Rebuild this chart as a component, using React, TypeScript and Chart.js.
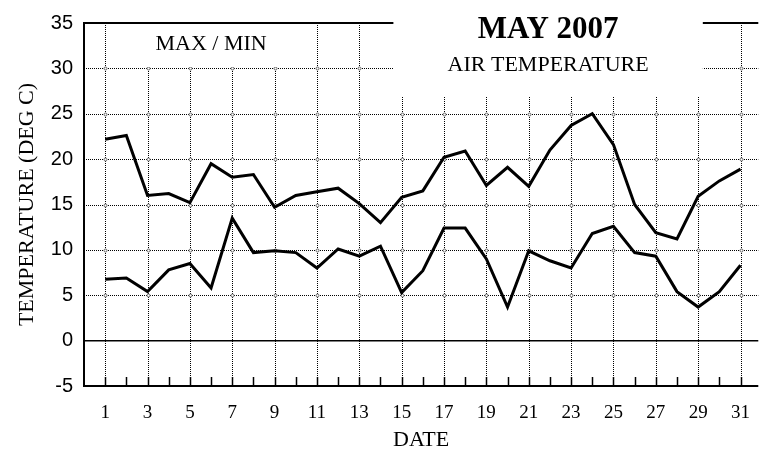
import React, { useEffect, useRef } from 'react';
import { Chart, registerables } from 'chart.js';

Chart.register(...registerables);

// ---- data ----
const days = [1, 2, 3, 4, 5, 6, 7, 8, 9, 10, 11, 12, 13, 14, 15, 16, 17, 18, 19, 20, 21, 22, 23, 24, 25, 26, 27, 28, 29, 30, 31];
const maxTemp = [22.2, 22.6, 16.0, 16.2, 15.2, 19.5, 18.0, 18.3, 14.7, 16.0, 16.4, 16.8, 15.1, 13.0, 15.8, 16.5, 20.2, 20.9, 17.1, 19.1, 17.0, 21.0, 23.7, 25.0, 21.6, 15.0, 11.9, 11.2, 15.9, 17.6, 18.9];
const minTemp = [6.75, 6.9, 5.4, 7.8, 8.5, 5.8, 13.5, 9.7, 9.9, 9.7, 8.0, 10.1, 9.3, 10.4, 5.3, 7.7, 12.4, 12.4, 9.0, 3.7, 9.9, 8.8, 8.0, 11.8, 12.6, 9.7, 9.3, 5.4, 3.7, 5.4, 8.3];
const yTicks = [-5, 0, 5, 10, 15, 20, 25, 30, 35];
const gridDays = [1, 3, 5, 7, 9, 11, 13, 15, 17, 19, 21, 23, 25, 27, 29, 31];
const gridTemps = [5, 10, 15, 20, 25, 30];

const titleText = 'MAY 2007';
const subtitleText = 'AIR TEMPERATURE';
const boxLabel = 'MAX / MIN';
const xTitle = 'DATE';
const yTitle = 'TEMPERATURE (DEG C)';

const SERIF = '"Liberation Serif", "Times New Roman", serif';
const SANS = '"Liberation Sans", Arial, sans-serif';

const refPlugin = {
  id: 'refPlugin',
  beforeDatasetsDraw(chart: any) {
    const { ctx, chartArea: a, scales } = chart;
    const x = scales.x;
    const y = scales.y;
    const line = (x1: number, y1: number, x2: number, y2: number) => {
      ctx.beginPath();
      ctx.moveTo(x1, y1);
      ctx.lineTo(x2, y2);
      ctx.stroke();
    };
    ctx.save();
    // dotted grid
    ctx.strokeStyle = '#000';
    ctx.lineWidth = 1;
    ctx.setLineDash([1, 1]);
    for (const d of gridDays) {
      const px = Math.round(x.getPixelForValue(d)) + 0.5;
      line(px, a.top, px, a.bottom);
    }
    for (const v of gridTemps) {
      const py = Math.round(y.getPixelForValue(v)) + 0.5;
      line(a.left, py, a.right, py);
    }
    ctx.setLineDash([]);
    // intersection rings
    ctx.strokeStyle = '#666';
    ctx.fillStyle = '#fff';
    for (const d of gridDays) {
      for (const v of gridTemps) {
        const px = Math.round(x.getPixelForValue(d)) + 0.5;
        const py = Math.round(y.getPixelForValue(v)) + 0.5;
        ctx.beginPath();
        ctx.arc(px, py, 1.5, 0, Math.PI * 2);
        ctx.fill();
        ctx.stroke();
      }
    }
    // zero line
    ctx.strokeStyle = '#000';
    ctx.lineWidth = 1.5;
    const y0 = y.getPixelForValue(0);
    line(a.left, y0, a.right, y0);
    // borders
    ctx.lineWidth = 2;
    line(a.left, a.top, a.right, a.top);
    line(a.left, a.top - 1, a.left, a.bottom + 1);
    line(a.left, a.bottom, a.right, a.bottom);
    // tick marks (inside, at every day)
    ctx.lineWidth = 1.5;
    for (const d of days) {
      const px = Math.round(x.getPixelForValue(d)) + 0.5;
      line(px, a.bottom - 9, px, a.bottom);
    }
    // white boxes
    ctx.fillStyle = '#fff';
    const bx1 = x.getPixelForValue(1.2);
    const bx2 = x.getPixelForValue(10.8);
    const by2 = y.getPixelForValue(30.15);
    ctx.fillRect(bx1, a.top + 2, bx2 - bx1, by2 - a.top - 2);
    const tx1 = x.getPixelForValue(14.61);
    const tx2 = x.getPixelForValue(29.22);
    const ty2 = y.getPixelForValue(26.95);
    ctx.fillRect(tx1, 0, tx2 - tx1, ty2);
    ctx.restore();
  },
  afterDraw(chart: any) {
    const { ctx, scales } = chart;
    const x = scales.x;
    ctx.save();
    ctx.fillStyle = '#000';
    ctx.textAlign = 'center';
    ctx.textBaseline = 'alphabetic';
    const tc = (x.getPixelForValue(14.61) + x.getPixelForValue(29.22)) / 2;
    ctx.font = `bold 31px ${SERIF}`;
    ctx.fillText(titleText, tc, 38);
    ctx.font = `22px ${SERIF}`;
    ctx.fillText(subtitleText, tc, 71);
    const bc = (x.getPixelForValue(1.2) + x.getPixelForValue(10.8)) / 2;
    ctx.fillText(boxLabel, bc, 50);
    ctx.restore();
  },
};

export default function App() {
  const ref = useRef<HTMLCanvasElement | null>(null);
  useEffect(() => {
    if (!ref.current) return;
    const chart = new Chart(ref.current, {
      type: 'line',
      data: {
        datasets: [
          {
            label: 'MAX',
            data: days.map((d, i) => ({ x: d, y: maxTemp[i] })),
            borderColor: '#000',
            borderWidth: 3,
            pointRadius: 0,
            tension: 0,
            fill: false,
          },
          {
            label: 'MIN',
            data: days.map((d, i) => ({ x: d, y: minTemp[i] })),
            borderColor: '#000',
            borderWidth: 3,
            pointRadius: 0,
            tension: 0,
            fill: false,
          },
        ],
      },
      options: {
        responsive: false,
        animation: false,
        devicePixelRatio: 1,
        layout: { padding: { top: 16, left: 0, right: 0, bottom: 0 } },
        plugins: { legend: { display: false }, tooltip: { enabled: false } },
        scales: {
          x: {
            type: 'linear',
            min: 0,
            max: 31.84,
            afterBuildTicks: (s: any) => {
              s.ticks = days.map((v) => ({ value: v }));
            },
            afterFit: (s: any) => {
              s.height = 70;
            },
            grid: { display: false, drawTicks: false },
            border: { display: false },
            ticks: {
              autoSkip: false,
              maxRotation: 0,
              padding: 16,
              color: '#000',
              font: { family: SERIF, size: 19 },
              callback: (v: any) => (Number(v) % 2 === 1 ? String(v) : ''),
            },
            title: {
              display: true,
              text: xTitle,
              color: '#000',
              font: { family: SERIF, size: 22 },
              padding: { top: 0, bottom: 3 },
            },
          },
          y: {
            type: 'linear',
            min: -5,
            max: 35,
            afterBuildTicks: (s: any) => {
              s.ticks = yTicks.map((v) => ({ value: v }));
            },
            afterFit: (s: any) => {
              s.width = 84;
            },
            grid: { display: false, drawTicks: false },
            border: { display: false },
            ticks: {
              padding: 11,
              color: '#000',
              font: { family: SANS, size: 20 },
            },
            title: {
              display: true,
              text: yTitle,
              color: '#000',
              font: { family: SERIF, size: 22 },
              padding: { top: 14, bottom: 0 },
            },
          },
        },
      },
      plugins: [refPlugin],
    } as any);
    return () => chart.destroy();
  }, []);
  return (
    <div style={{ position: 'absolute', left: 0, top: 0, width: 766, height: 456, background: '#fff' }}>
      <canvas ref={ref} width={766} height={456} style={{ width: 766, height: 456, display: 'block' }} />
    </div>
  );
}
